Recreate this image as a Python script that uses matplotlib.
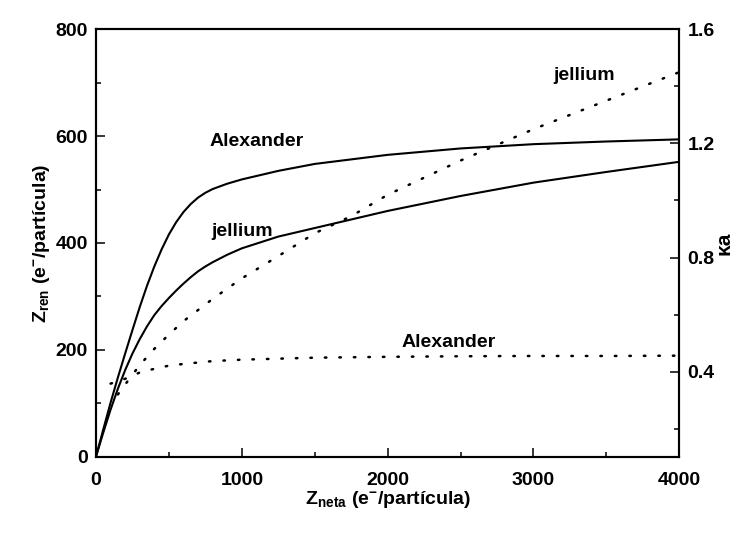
import matplotlib.pyplot as plt
from matplotlib.ticker import MultipleLocator

# Carga renormalizada (eje izquierdo), curvas continuas
z_neta = [0, 50, 100, 150, 200, 250, 300, 350, 400, 450, 500, 550, 600, 650,
          700, 750, 800, 900, 1000, 1250, 1500, 2000, 2500, 3000, 3500, 4000]
z_ren_alexander = [0, 51, 101, 148, 193, 237, 280, 320, 356, 388, 416, 439,
                   458, 473, 485, 494, 501, 511, 519, 535, 548, 565, 577, 585,
                   590, 594]
z_ren_jellium = [0, 45, 88, 127, 162, 193, 220, 244, 265, 282, 297, 311,
                 324, 336, 347, 356, 364, 378, 390, 412, 428, 460, 488, 513,
                 533, 552]

# kappa*a (eje derecho), curvas punteadas
z_ka_jellium = [150, 200, 300, 400, 500, 600, 800, 1000, 1250, 1500, 1750,
                2000, 2500, 3000, 3500, 4000]
ka_jellium = [0.32, 0.355, 0.423, 0.48, 0.53, 0.577, 0.655, 0.727, 0.805,
              0.885, 0.945, 1.02, 1.14, 1.25, 1.35, 1.45]
z_ka_alexander = [100, 200, 300, 400, 500, 600, 700, 800, 1000, 1500, 2000,
                  2500, 3000, 3500, 4000]
ka_alexander = [0.358, 0.375, 0.397, 0.41, 0.421, 0.427, 0.432, 0.437, 0.442,
                0.449, 0.452, 0.454, 0.455, 0.455, 0.456]

plt.rcParams['font.family'] = 'Liberation Sans'
plt.rcParams['font.weight'] = 'bold'
plt.rcParams['mathtext.fontset'] = 'custom'
plt.rcParams['mathtext.rm'] = 'Liberation Sans:bold'
plt.rcParams['mathtext.it'] = 'Liberation Sans:bold'
plt.rcParams['mathtext.bf'] = 'Liberation Sans:bold'

FS = 14
DOTS = (0, (0.6, 5.2))

fig = plt.figure(figsize=(7.36, 5.36), dpi=100)
ax = fig.add_axes([0.1304, 0.148, 0.7926, 0.7973])
ax2 = ax.twinx()

ax.plot(z_neta, z_ren_alexander, 'k-', lw=1.5)
ax.plot(z_neta, z_ren_jellium, 'k-', lw=1.5)
ax2.plot(z_ka_jellium, ka_jellium, color='k', lw=1.8, linestyle=DOTS,
         dash_capstyle='round')
ax2.plot(z_ka_alexander, ka_alexander, color='k', lw=1.8, linestyle=DOTS,
         dash_capstyle='round')

ax.set_xlim(0, 4000)
ax.set_ylim(0, 800)
ax2.set_ylim(0.102, 1.6)

ax.xaxis.set_major_locator(MultipleLocator(1000))
ax.xaxis.set_minor_locator(MultipleLocator(500))
ax.yaxis.set_major_locator(MultipleLocator(200))
ax.yaxis.set_minor_locator(MultipleLocator(100))
ax2.set_yticks([0.4, 0.8, 1.2, 1.6])
ax2.set_yticks([0.2, 0.6, 1.0, 1.4], minor=True)

ax.tick_params(which='both', direction='in', top=False, right=False,
               width=1.1, labelsize=FS)
ax.tick_params(which='major', length=6.5)
ax.tick_params(which='minor', length=3.6)
ax.tick_params(axis='x', pad=11)
ax.tick_params(axis='y', pad=6)
ax2.tick_params(which='both', direction='in', width=1.1, labelsize=FS, pad=6)
ax2.tick_params(which='major', length=6.5)
ax2.tick_params(which='minor', length=3.6)

for a in (ax, ax2):
    for s in a.spines.values():
        s.set_linewidth(1.5)

ax.set_xlabel(r'Z$_{\mathrm{neta}}$ (e$^{-}$/partícula)', fontsize=FS,
              fontweight='bold', labelpad=0)
ax.set_ylabel(r'Z$_{\mathrm{ren}}$ (e$^{-}$/partícula)', fontsize=FS,
              fontweight='bold', labelpad=2)
ax2.set_ylabel('κa', fontsize=FS + 1, fontweight='bold', labelpad=0)

# Etiquetas de cada curva
ax.text(1100, 590, 'Alexander', fontsize=FS, fontweight='bold',
        ha='center', va='center')
ax.text(1000, 422, 'jellium', fontsize=FS, fontweight='bold',
        ha='center', va='center')
ax.text(3350, 713, 'jellium', fontsize=FS, fontweight='bold',
        ha='center', va='center')
ax.text(2420, 213, 'Alexander', fontsize=FS, fontweight='bold',
        ha='center', va='center')

fig.savefig('out.png', dpi=100)
